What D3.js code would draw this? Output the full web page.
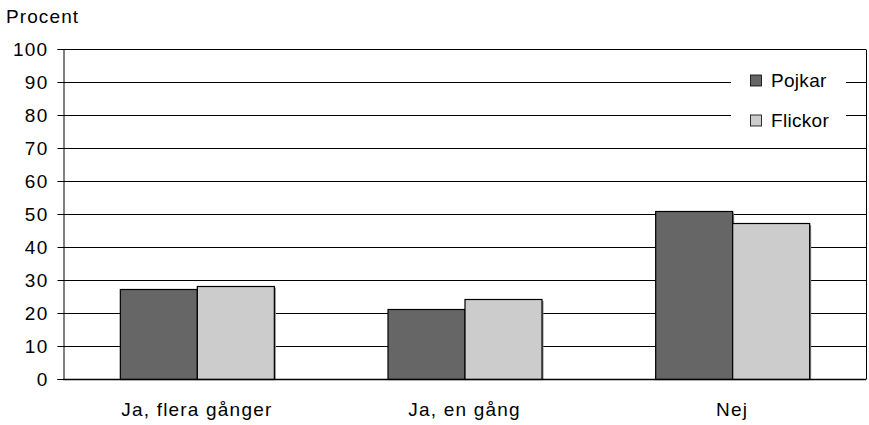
<!DOCTYPE html>
<html><head><meta charset="utf-8">
<script src="https://cdn.jsdelivr.net/npm/d3@7"></script>
<style>body{margin:0;background:#fff}svg{display:block;font-family:"Liberation Sans",Arial,sans-serif}</style>
</head><body><svg id="c" width="869" height="425"></svg>
<script>
const categories = ["Ja, flera gånger", "Ja, en gång", "Nej"];
const seriesNames = ["Pojkar", "Flickor"];
const pojkar = [27.2, 21.1, 50.8];
const flickor = [28.3, 24.3, 47.2];
const yTicks = [0,10,20,30,40,50,60,70,80,90,100];
const colors = ["#666666", "#cccccc"];

const svg = d3.select("#c");
const m = {left: 63, right: 3, top: 49, bottom: 46};
const W = 869, H = 425;
const FF = "Liberation Sans, Arial, sans-serif";
const x = d3.scaleBand().domain(categories).range([m.left, W - m.right]).paddingInner(0).paddingOuter(0);
const y = d3.scaleLinear().domain([0, 100]).range([H - m.bottom, m.top]);
const x1 = d3.scaleBand().domain(seriesNames).range([0, 154]);
const groupOffset = (x.bandwidth() - 154) / 2;

// gridlines
svg.append("g").selectAll("line").data(yTicks.filter(d => d > 0)).join("line")
  .attr("x1", m.left).attr("x2", W - m.right)
  .attr("y1", d => Math.round(y(d)) + 0.5).attr("y2", d => Math.round(y(d)) + 0.5)
  .attr("stroke", "#000").attr("stroke-width", 1);

// right border
svg.append("line").attr("x1", W - m.right + 0.5).attr("x2", W - m.right + 0.5)
  .attr("y1", Math.round(y(100)) + 0.5).attr("y2", Math.round(y(0)) + 0.5).attr("stroke", "#000");

// legend background
const lg = svg.append("g");
lg.append("rect").attr("x", 731).attr("y", 64).attr("width", 115).attr("height", 72).attr("fill", "#fff");

// y axis
const yAxis = d3.axisLeft(y).tickValues(yTicks).tickSize(6).tickPadding(9);
const ga = svg.append("g").attr("transform", `translate(${m.left + 0.5},0)`).call(yAxis);
ga.select(".domain").attr("stroke", "#000");
ga.selectAll(".tick line").attr("stroke", "#000");
ga.selectAll(".tick text").attr("font-size", 19).attr("fill", "#000")
  .style("font-family", FF).style("letter-spacing", "1.3px");

// bars
const data = categories.map((c, i) => ({c, vals: [pojkar[i], flickor[i]]}));
const groups = svg.append("g").selectAll("g").data(data).join("g")
  .attr("transform", d => `translate(${x(d.c) + groupOffset},0)`);
// subtle shadows
groups.selectAll("rect.sh").data(d => d.vals.map((v, k) => ({v, k}))).join("rect")
  .attr("class", "sh")
  .attr("x", d => x1(seriesNames[d.k]) + 2).attr("y", d => y(d.v) + 2)
  .attr("width", x1.bandwidth()).attr("height", d => y(0) - y(d.v) - 2)
  .attr("fill", "#888888");
groups.selectAll("rect.b").data(d => d.vals.map((v, k) => ({v, k}))).join("rect")
  .attr("class", "b")
  .attr("x", d => x1(seriesNames[d.k]) + 0.5).attr("y", d => Math.round(y(d.v)) + 0.5)
  .attr("width", x1.bandwidth()).attr("height", d => Math.round(y(0)) - Math.round(y(d.v)))
  .attr("fill", d => colors[d.k]).attr("stroke", "#000").attr("stroke-width", 1.2);

// x baseline
svg.append("line").attr("x1", m.left).attr("x2", W - m.right)
  .attr("y1", Math.round(y(0)) + 0.5).attr("y2", Math.round(y(0)) + 0.5).attr("stroke", "#000").attr("stroke-width", 1.3);

// x labels
const xAxis = d3.axisBottom(x).tickSize(0).tickPadding(24);
const gx = svg.append("g").attr("transform", `translate(0,${Math.round(y(0))})`).call(xAxis);
gx.select(".domain").remove();
gx.selectAll(".tick text").attr("font-size", 19).attr("fill", "#000")
  .style("font-family", FF).style("letter-spacing", "1.2px");

// y title
svg.append("text").attr("x", 6).attr("y", 23).attr("font-size", 19)
  .style("letter-spacing", "1.1px").text("Procent");

// legend items
seriesNames.forEach((s, i) => {
  const yy = 80.5 + i * 40;
  lg.append("rect").attr("x", 750.5).attr("y", yy - 5.5).attr("width", 11).attr("height", 11)
    .attr("fill", colors[i]).attr("stroke", "#000").attr("stroke-width", 0.8);
  lg.append("text").attr("x", 771).attr("y", yy + 6.5).attr("font-size", 19)
    .style("letter-spacing", "0.3px").text(s);
});
</script></body></html>
